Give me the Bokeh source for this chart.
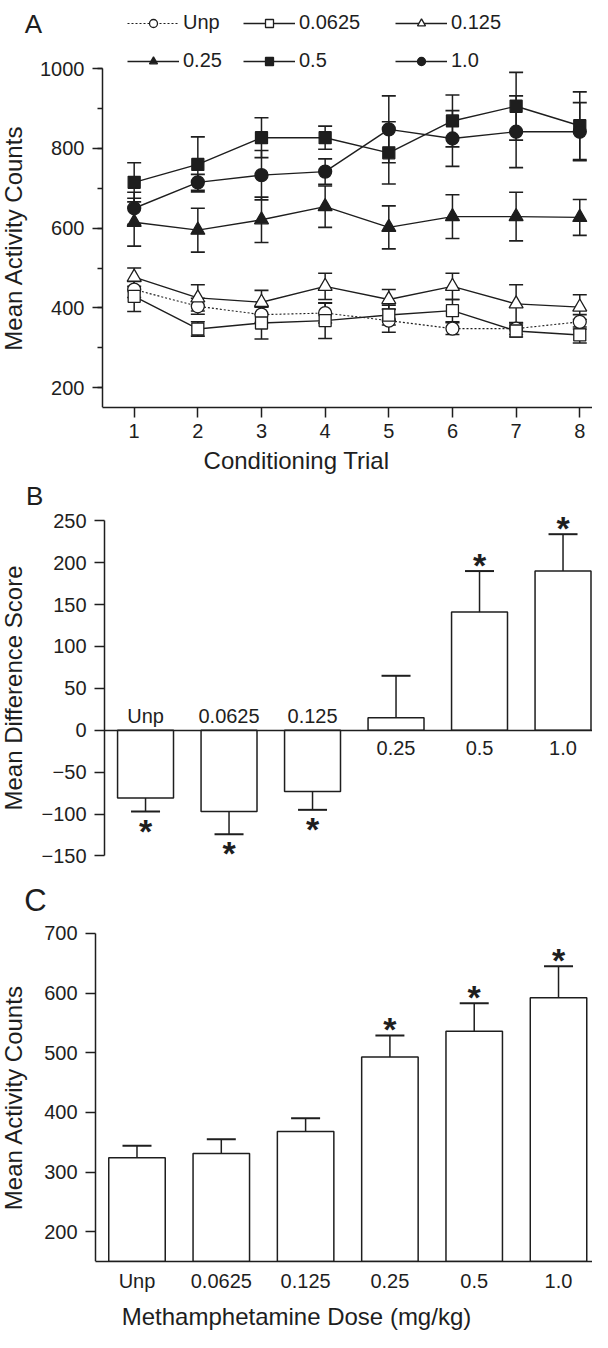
from bokeh.plotting import figure
from bokeh.layouts import column
from bokeh.models import (Range1d, FixedTicker, SingleIntervalTicker, Legend,
                          LegendItem, Label, ColumnDataSource, LinearAxis)
from bokeh.core.properties import value
from bokeh.embed import file_html
from bokeh.resources import INLINE

FONT = "Liberation Sans"
INK = "#1e1e1e"

# ---------------- data: panel A ----------------
trials = [1, 2, 3, 4, 5, 6, 7, 8]
unp = [446, 404, 383, 387, 368, 348, 348, 365]
unp_err = [20, 20, 20, 25, 29, 15, 15, 18]
d0625 = [429, 347, 362, 368, 382, 393, 342, 332]
d0625_err = [38, 18, 40, 45, 25, 28, 15, 20]
d125 = [477, 425, 414, 454, 421, 454, 410, 402]
d125_err = [23, 33, 30, 33, 25, 33, 48, 31]
d25 = [615, 595, 621, 654, 602, 629, 629, 627]
d25_err = [60, 55, 57, 52, 54, 55, 61, 45]
d5 = [715, 760, 827, 827, 789, 869, 906, 857]
d5_err = [49, 69, 50, 29, 78, 65, 85, 85]
d1 = [650, 715, 733, 742, 848, 825, 842, 842]
d1_err = [40, 20, 62, 32, 84, 70, 90, 73]

# ---------------- data: panel B ----------------
doses = ["Unp", "0.0625", "0.125", "0.25", "0.5", "1.0"]
b_vals = [-81, -97, -73, 15, 141, 190]
b_err = [16, 27, 22, 50, 49, 44]
b_sig = [True, True, True, False, True, True]

# ---------------- data: panel C ----------------
c_vals = [324, 331, 368, 493, 536, 592]
c_err = [20, 24, 22, 36, 47, 53]
c_sig = [False, False, False, True, True, True]


def style_axis(ax):
    ax.axis_line_color = INK
    ax.axis_line_width = 1.5
    ax.major_tick_line_color = INK
    ax.major_tick_line_width = 1.5
    ax.minor_tick_line_color = INK
    ax.minor_tick_line_width = 1.5
    ax.major_tick_in = 0
    ax.major_tick_out = 10
    ax.minor_tick_in = 0
    ax.minor_tick_out = 5
    ax.major_label_text_font = FONT
    ax.major_label_text_font_size = "20px"
    ax.major_label_text_color = INK
    ax.axis_label_text_font = FONT
    ax.axis_label_text_font_size = "24px"
    ax.axis_label_text_font_style = "normal"
    ax.axis_label_text_color = INK
    ax.major_label_standoff = 8


def base_fig(h, xr, yr, bottom):
    p = figure(width=592, height=h, x_range=Range1d(*xr), y_range=Range1d(*yr),
               output_backend="svg", toolbar_location=None,
               x_axis_location=None, y_axis_location=None,
               min_border_left=0, min_border_right=0, min_border_top=0,
               min_border_bottom=bottom)
    p.outline_line_color = None
    p.background_fill_color = "white"
    p.border_fill_color = "white"
    for g in p.grid:
        g.visible = False
    return p


def panel_letter(p, txt, x, y, size="26px"):
    p.add_layout(Label(x=x, y=y, text=txt, text_font=FONT, text_font_size=size,
                       text_color=INK, text_align="center", text_baseline="middle"))


# ================= Panel A =================
# frame spans the whole figure width; the y-axis is pinned at the left of the data area
pA = base_fig(482, (-1.100, 8.200), (150, 1171.3), 75)
ya = LinearAxis(fixed_location=0.502, bounds=(150, 1000),
                ticker=SingleIntervalTicker(interval=200, num_minor_ticks=2),
                axis_label="Mean Activity Counts", axis_label_standoff=10)
style_axis(ya)
pA.add_layout(ya, "left")
xa = LinearAxis(bounds=(0.502, 8.200), ticker=FixedTicker(ticks=trials),
                axis_label="Conditioning Trial", axis_label_standoff=6)
style_axis(xa)
xa.major_label_standoff = 6
pA.add_layout(xa, "below")

series = [
    ("Unp", unp, unp_err, "circle", 13, "white", "2 2", 1.1),
    ("0.0625", d0625, d0625_err, "square", 12, "white", "solid", 1.4),
    ("0.125", d125, d125_err, "triangle", 14, "white", "solid", 1.4),
    ("0.25", d25, d25_err, "triangle", 14, INK, "solid", 1.4),
    ("0.5", d5, d5_err, "square", 12, INK, "solid", 1.4),
    ("1.0", d1, d1_err, "circle", 13, INK, "solid", 1.4),
]

for name, vals, errs, mk, sz, fill, dash, lw in series:
    lo = [v - e for v, e in zip(vals, errs)]
    hi = [v + e for v, e in zip(vals, errs)]
    pA.segment(x0=trials, y0=lo, x1=trials, y1=hi, line_color=INK, line_width=1.5)
    pA.scatter(x=trials, y=lo, marker="dash", size=14, line_color=INK, line_width=1.6)
    pA.scatter(x=trials, y=hi, marker="dash", size=14, line_color=INK, line_width=1.6)

renders = {}
for name, vals, errs, mk, sz, fill, dash, lw in series:
    ln = pA.line(x=trials, y=vals, line_color=INK, line_width=lw, line_dash=dash)
    renders[name] = [ln]
for name, vals, errs, mk, sz, fill, dash, lw in series:
    m = pA.scatter(x=trials, y=vals, marker=mk, size=sz, fill_color=fill,
                   line_color=INK, line_width=1.3)
    renders[name].append(m)

legend_cols = [(["Unp", "0.25"], 127), (["0.0625", "0.5"], 243), (["0.125", "1.0"], 395)]
for names, xoff in legend_cols:
    leg = Legend(items=[LegendItem(label=n, renderers=renders[n]) for n in names],
                 location=(xoff, 335), orientation="vertical",
                 glyph_width=52, glyph_height=20, label_height=20, label_standoff=4,
                 spacing=15, padding=0, margin=0, border_line_color=None,
                 background_fill_alpha=0, label_text_font=FONT,
                 label_text_font_size="20px", label_text_color=INK)
    pA.add_layout(leg)

panel_letter(pA, "A", -0.582, 1111.1)

# ================= Panel B =================
idx = list(range(len(doses)))
pB = base_fig(390, (-1.737, 5.353), (-169.8, 295.7), 0)
yb = LinearAxis(fixed_location=-0.491, bounds=(-150, 250),
                ticker=SingleIntervalTicker(interval=50, num_minor_ticks=0),
                axis_label="Mean Difference Score", axis_label_standoff=11)
style_axis(yb)
pB.add_layout(yb, "left")
zb = LinearAxis(fixed_location=0, bounds=(-0.491, 5.353), ticker=FixedTicker(ticks=[]))
style_axis(zb)
pB.add_layout(zb, "below")

b_tip = [v + (e if v >= 0 else -e) for v, e in zip(b_vals, b_err)]
pB.vbar(x=idx, bottom=0, top=b_vals, width=0.67, fill_color="white",
        line_color=INK, line_width=1.5)
pB.segment(x0=idx, y0=b_vals, x1=idx, y1=b_tip, line_color=INK, line_width=1.5)
pB.scatter(x=idx, y=b_tip, marker="dash", size=29, line_color=INK, line_width=2)

b_lab = ColumnDataSource(dict(x=idx, y=[0] * len(idx), text=doses,
                              off=[-14 if v < 0 else 18 for v in b_vals]))
pB.text(x="x", y="y", text="text", source=b_lab, y_offset="off",
        text_font=value(FONT), text_font_size="20px", text_color=INK,
        text_align="center", text_baseline="alphabetic")

ast_b = ColumnDataSource(dict(
    x=[i for i, s in zip(idx, b_sig) if s],
    y=[t for t, s in zip(b_tip, b_sig) if s],
    off=[(-6 if v >= 0 else 19) for v, s in zip(b_vals, b_sig) if s],
    text=["*" for s in b_sig if s]))
pB.text(x="x", y="y", text="text", source=ast_b, y_offset="off",
        text_font=value(FONT), text_font_style="bold", text_font_size="34px",
        text_color=INK, text_align="center", text_baseline="alphabetic")

panel_letter(pB, "B", -1.329, 279.0)

# ================= Panel C =================
pC = base_fig(460, (-1.619, 5.403), (150, 802.1), 66)
yc = LinearAxis(fixed_location=-0.492, bounds=(150, 700),
                ticker=SingleIntervalTicker(interval=100, num_minor_ticks=0),
                axis_label="Mean Activity Counts", axis_label_standoff=14)
style_axis(yc)
pC.add_layout(yc, "left")
xc = LinearAxis(bounds=(-0.492, 5.403), ticker=FixedTicker(ticks=idx),
                major_label_overrides={i: d for i, d in zip(idx, doses)},
                axis_label="Methamphetamine Dose (mg/kg)")
style_axis(xc)
xc.major_tick_out = 0
xc.major_label_standoff = 8
xc.axis_label_standoff = 8
pC.add_layout(xc, "below")

c_tip = [v + e for v, e in zip(c_vals, c_err)]
pC.vbar(x=idx, bottom=pC.y_range.start, top=c_vals, width=0.67, fill_color="white",
        line_color=INK, line_width=1.5)
pC.segment(x0=idx, y0=c_vals, x1=idx, y1=c_tip, line_color=INK, line_width=1.5)
pC.scatter(x=idx, y=c_tip, marker="dash", size=29, line_color=INK, line_width=2)

ast_c = ColumnDataSource(dict(
    x=[i for i, s in zip(idx, c_sig) if s],
    y=[t for t, s in zip(c_tip, c_sig) if s],
    text=["*" for s in c_sig if s]))
pC.text(x="x", y="y", text="text", source=ast_c, y_offset=-6,
        text_font=value(FONT), text_font_style="bold", text_font_size="34px",
        text_color=INK, text_align="center", text_baseline="alphabetic")

panel_letter(pC, "C", -1.204, 755.6, size="31px")

layout = column(pA, pB, pC, spacing=0)
open("out.html", "w").write(file_html(layout, INLINE))
